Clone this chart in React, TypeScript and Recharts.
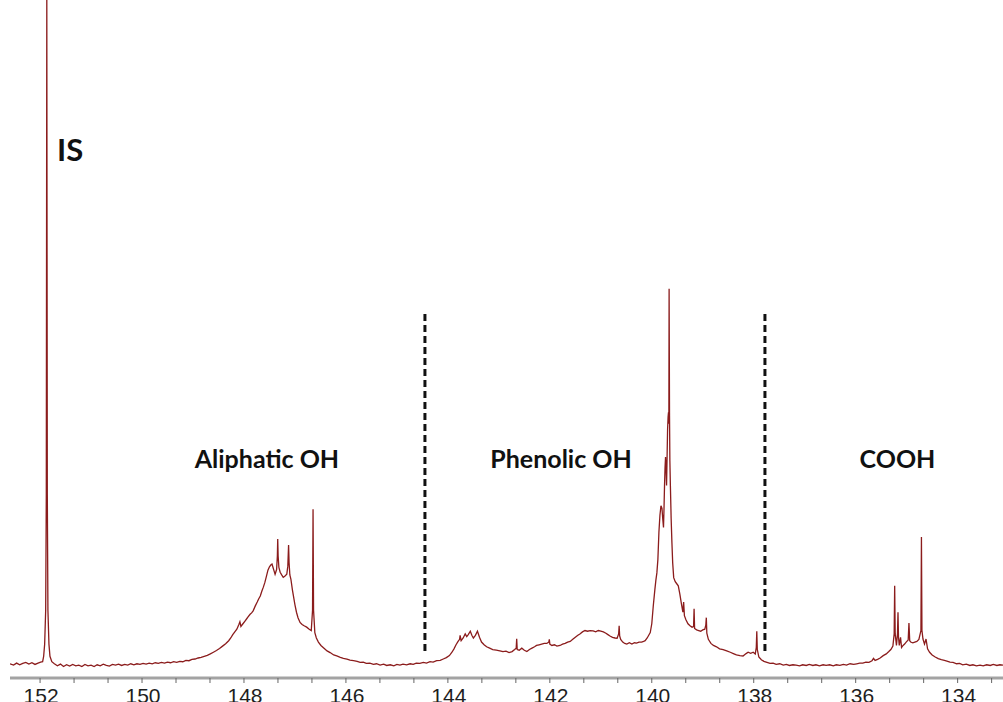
import React from 'react';
import { ComposedChart, Line, XAxis, YAxis, ReferenceLine, ReferenceDot } from 'recharts';

// 31P NMR spectrum: [chemical shift (ppm), relative intensity]
const isRegion: [number, number][] = [
  [152.59, 0.1], [152.52, -0.1], [152.46, 0.2], [152.4, -0.05], [152.34, 0.15], [152.28, 0.3],
  [152.22, 0.05], [152.16, 0.25], [152.1, 0.0], [152.04, 0.2], [151.99, 0.35], [151.95, 0.4],
  [151.93, 1.2], [151.91, 3.0], [151.89, 8], [151.878, 25], [151.868, 98.5], [151.858, 25],
  [151.846, 8], [151.826, 3.0], [151.806, 1.2], [151.77, 0.4],
];

const aliphaticRegion: [number, number][] = [
  [151.72, 0.1], [151.66, -0.2], [151.6, 0.05], [151.54, -0.3], [151.48, -0.05], [151.42, -0.25],
  [151.36, 0.0], [151.3, -0.2], [151.24, -0.1], [151.18, -0.3], [151.12, 0.0], [151.06, -0.2],
  [151.0, -0.1], [150.94, -0.3], [150.88, -0.05], [150.82, -0.2], [150.76, 0.05], [150.7, -0.15],
  [150.64, -0.25], [150.58, 0.0], [150.52, -0.1], [150.46, 0.05], [150.4, -0.15], [150.34, 0.0],
  [150.28, -0.1], [150.22, 0.1], [150.16, -0.05], [150.1, 0.1], [150.04, 0.0], [149.98, 0.15],
  [149.92, 0.05], [149.86, 0.2], [149.8, 0.1], [149.74, 0.25], [149.68, 0.15], [149.62, 0.3],
  [149.56, 0.2], [149.5, 0.35], [149.44, 0.25], [149.38, 0.4], [149.32, 0.3], [149.26, 0.45],
  [149.2, 0.4], [149.14, 0.6], [149.08, 0.55], [149.02, 0.75], [148.96, 0.8], [148.9, 0.95],
  [148.84, 1.05], [148.78, 1.2], [148.72, 1.35], [148.66, 1.55], [148.6, 1.8], [148.54, 2.05],
  [148.48, 2.35], [148.42, 2.7], [148.36, 3.05], [148.3, 3.5], [148.26, 3.9], [148.22, 4.4],
  [148.18, 4.8], [148.14, 5.2], [148.1, 5.9], [148.08, 6.3], [148.06, 5.6], [148.02, 6.0],
  [147.98, 6.4], [147.95, 6.7], [147.92, 7.0], [147.88, 7.4], [147.85, 7.6], [147.82, 7.9],
  [147.78, 8.6], [147.74, 9.2], [147.71, 9.7], [147.68, 10.1], [147.65, 10.8], [147.62, 11.4],
  [147.59, 12.1], [147.56, 13.0], [147.53, 13.9], [147.5, 14.4], [147.47, 14.7], [147.45, 14.8],
  [147.43, 14.3], [147.41, 13.8], [147.39, 13.3], [147.36, 14.0], [147.345, 16.0], [147.338, 18.5],
  [147.33, 16.0], [147.315, 14.3], [147.29, 13.6], [147.26, 13.2], [147.23, 12.85], [147.2, 13.0],
  [147.16, 13.3], [147.14, 14.5], [147.125, 17.6], [147.115, 15.0], [147.1, 13.2], [147.08, 12.6],
  [147.05, 11.0], [147.03, 10.1], [147.0, 8.8], [146.97, 7.7], [146.94, 6.9], [146.9, 6.2],
  [146.86, 5.9], [146.82, 5.7], [146.77, 5.5], [146.72, 5.2], [146.68, 5.0], [146.655, 8.0],
  [146.645, 22.9], [146.635, 8.0], [146.61, 4.7], [146.58, 3.9], [146.54, 3.3], [146.49, 2.8],
  [146.43, 2.4], [146.37, 2.0], [146.31, 1.75], [146.24, 1.4], [146.18, 1.25], [146.11, 1.05],
  [146.05, 0.9], [145.98, 0.8], [145.92, 0.65], [145.85, 0.55], [145.78, 0.45], [145.72, 0.3],
  [145.66, 0.35], [145.6, 0.15], [145.53, 0.2], [145.46, 0.0], [145.4, 0.1], [145.33, -0.1],
  [145.26, 0.05], [145.2, -0.15], [145.13, -0.05], [145.06, -0.2], [145.0, 0.0], [144.94, -0.1],
  [144.88, 0.05], [144.81, -0.05], [144.74, 0.1], [144.68, 0.0], [144.62, 0.2], [144.55, 0.15],
  [144.48, 0.3], [144.42, 0.2],
];

const phenolicRegion: [number, number][] = [
  [144.35, 0.4], [144.29, 0.35], [144.22, 0.55], [144.15, 0.6], [144.09, 0.8], [144.03, 1.0],
  [143.97, 1.3], [143.92, 1.8], [143.88, 2.3], [143.84, 2.9], [143.8, 3.4], [143.77, 3.7],
  [143.76, 4.3], [143.74, 3.5], [143.7, 3.9], [143.66, 4.5], [143.63, 4.1], [143.6, 4.4],
  [143.56, 4.9], [143.53, 4.3], [143.5, 3.9], [143.46, 4.3], [143.42, 4.9], [143.38, 4.0],
  [143.34, 3.3], [143.29, 2.9], [143.24, 2.6], [143.18, 2.4], [143.12, 2.2], [143.05, 2.1],
  [142.98, 2.0], [142.92, 1.9], [142.86, 1.95], [142.8, 1.75], [142.74, 1.9], [142.69, 2.2],
  [142.66, 2.4], [142.65, 3.8], [142.64, 2.2], [142.6, 2.1], [142.55, 2.4], [142.5, 2.1],
  [142.45, 1.9], [142.4, 2.2], [142.35, 2.4], [142.3, 2.6], [142.26, 2.8], [142.21, 2.9],
  [142.16, 3.0], [142.11, 3.1], [142.06, 3.1], [142.02, 3.3], [142.01, 3.7], [142.0, 3.0],
  [141.96, 2.8], [141.91, 2.9], [141.86, 2.7], [141.8, 2.8], [141.75, 3.0], [141.7, 3.1],
  [141.65, 3.3], [141.6, 3.4], [141.55, 3.7], [141.5, 4.0], [141.45, 4.3], [141.41, 4.5],
  [141.36, 4.8], [141.31, 5.0], [141.26, 4.9], [141.21, 5.0], [141.15, 4.95], [141.1, 4.8],
  [141.05, 5.0], [141.0, 4.9], [140.95, 4.8], [140.9, 4.6], [140.86, 4.4], [140.82, 4.2],
  [140.77, 4.0], [140.72, 3.9], [140.68, 3.85], [140.65, 4.5], [140.64, 5.7], [140.63, 4.2],
  [140.61, 3.7], [140.57, 3.3], [140.53, 3.1], [140.49, 3.0], [140.44, 3.2], [140.39, 3.0],
  [140.34, 3.2], [140.3, 3.15], [140.25, 3.3], [140.2, 3.3], [140.16, 3.4], [140.13, 3.5],
  [140.09, 3.9], [140.06, 4.3], [140.03, 4.7], [140.0, 6.0], [139.97, 8.7], [139.94, 11.0],
  [139.92, 12.4], [139.9, 13.5], [139.88, 15.5], [139.86, 19.5], [139.84, 22.0], [139.82, 23.4],
  [139.8, 23.0], [139.785, 21.5], [139.77, 20.2], [139.76, 23.0], [139.75, 26.4], [139.74, 29.0],
  [139.73, 30.6], [139.72, 29.0], [139.71, 26.4], [139.7, 30.5], [139.69, 34.7], [139.68, 36.5],
  [139.672, 37.2], [139.665, 35.5], [139.66, 55.4], [139.652, 36.7], [139.645, 30.0], [139.635, 26.4],
  [139.62, 21.5], [139.605, 18.0], [139.59, 15.0], [139.57, 12.8], [139.54, 12.2], [139.51, 11.9],
  [139.48, 11.6], [139.45, 10.4], [139.42, 9.0], [139.39, 7.7], [139.375, 9.2], [139.36, 7.2],
  [139.33, 6.6], [139.29, 6.0], [139.25, 5.7], [139.21, 5.5], [139.18, 5.6], [139.17, 8.2],
  [139.16, 5.3], [139.12, 5.1], [139.08, 5.0], [139.04, 4.9], [139.0, 5.1], [138.96, 5.2],
  [138.94, 5.8], [138.93, 6.9], [138.92, 4.6], [138.89, 3.7], [138.84, 3.1], [138.79, 2.8],
  [138.73, 2.6], [138.67, 2.3], [138.6, 2.2], [138.53, 2.0], [138.46, 1.8], [138.4, 1.6],
  [138.34, 1.4], [138.27, 1.3], [138.21, 1.25], [138.15, 1.6], [138.11, 1.8], [138.06, 1.65],
  [138.01, 1.8], [137.97, 1.55], [137.95, 2.5], [137.94, 4.9], [137.93, 2.2], [137.9, 1.1],
  [137.85, 0.7], [137.8, 0.45],
];

const coohRegion: [number, number][] = [
  [137.74, 0.3], [137.68, 0.15], [137.62, 0.2], [137.56, 0.0], [137.49, 0.1], [137.42, -0.1],
  [137.36, 0.0], [137.3, -0.15], [137.23, -0.05], [137.17, -0.1], [137.1, -0.2], [137.04, -0.05],
  [136.97, -0.15], [136.91, 0.0], [136.84, -0.15], [136.78, -0.05], [136.71, -0.2], [136.64, -0.05],
  [136.58, -0.15], [136.51, -0.05], [136.44, -0.2], [136.38, -0.05], [136.31, -0.15], [136.24, 0.0],
  [136.18, -0.1], [136.11, 0.1], [136.04, 0.0], [135.98, 0.1], [135.92, 0.2], [135.86, 0.2],
  [135.8, 0.35], [135.74, 0.3], [135.68, 0.55], [135.65, 0.9], [135.62, 0.6], [135.57, 0.75],
  [135.52, 0.95], [135.46, 1.3], [135.4, 1.55], [135.35, 1.9], [135.31, 2.2], [135.27, 2.7],
  [135.245, 4.5], [135.235, 11.6], [135.225, 4.5], [135.2, 2.8], [135.18, 4.5], [135.17, 7.7],
  [135.16, 4.0], [135.145, 2.8], [135.12, 4.0], [135.1, 2.5], [135.07, 2.8], [135.04, 3.0],
  [135.01, 3.3], [134.97, 3.6], [134.955, 6.1], [134.94, 3.5], [134.92, 3.3], [134.88, 3.2],
  [134.84, 3.3], [134.8, 3.4], [134.76, 3.7], [134.72, 5.0], [134.71, 18.8], [134.7, 5.0],
  [134.68, 3.75], [134.65, 3.0], [134.62, 3.75], [134.59, 2.3], [134.55, 1.8], [134.5, 1.4],
  [134.44, 1.1], [134.38, 0.85], [134.32, 0.7], [134.26, 0.6], [134.21, 0.5], [134.15, 0.35],
  [134.09, 0.3], [134.02, 0.1], [133.96, 0.15], [133.9, -0.05], [133.83, 0.05], [133.76, -0.15],
  [133.7, -0.05], [133.63, -0.2], [133.56, -0.1], [133.5, -0.2], [133.43, -0.05], [133.36, -0.15],
  [133.3, 0.0], [133.23, -0.15], [133.17, -0.05], [133.11, -0.1],
];

// axis labels (ppm)
const majorTicks = [152, 150, 148, 146, 144, 142, 140, 138, 136, 134];

// region boundaries (ppm)
const boundaries = [144.45, 137.78];

// region annotations
const regionNames = ['Aliphatic OH', 'Phenolic OH', 'COOH'];
const regionLabelShift = [147.55, 141.78, 135.18];
const regionLabelLevel = 29;
const standardName = 'IS';
const standardLabelShift = 151.41;
const standardLabelLevel = 74.3;

const spectrum = [...isRegion, ...aliphaticRegion, ...phenolicRegion, ...coohRegion].map(
  ([ppm, intensity]) => ({ ppm, intensity })
);

// minor ticks split each 2 ppm interval into thirds
const allTicks: number[] = [];
majorTicks.forEach((t) => {
  allTicks.push(t, t - 2 / 3, t - 4 / 3);
});

const isMajor = (v: number) => majorTicks.some((t) => Math.abs(t - v) < 1e-6);

const PpmTick = (props: any) => {
  const { x, y, payload } = props;
  if (!isMajor(payload.value)) return <g />;
  return (
    <text
      x={x + 1}
      y={y + 18}
      textAnchor="middle"
      fontFamily="'Liberation Sans', Arial, sans-serif"
      fontSize={21}
      fill="#1e1e1e"
    >
      {Math.round(payload.value)}
    </text>
  );
};

const makeLabel = (text: string, size: number) => (props: any) => {
  const vb = props.viewBox || {};
  const cx = (vb.x ?? 0) + (vb.width ?? 0) / 2;
  const cy = (vb.y ?? 0) + (vb.height ?? 0) / 2;
  return (
    <text
      x={cx}
      y={cy}
      textAnchor="middle"
      fontFamily="Lato, 'Open Sans', sans-serif"
      fontWeight={700}
      fontSize={size}
      fill="#111"
    >
      {text}
    </text>
  );
};

export default function App() {
  return (
    <div style={{ position: 'absolute', left: 0, top: 0, width: 1003, height: 702, background: '#fff' }}>
      <ComposedChart
        width={1003}
        height={702}
        data={spectrum}
        margin={{ top: 0, right: 0, bottom: 0, left: 10 }}
      >
        <XAxis
          dataKey="ppm"
          type="number"
          domain={[133.11, 152.59]}
          reversed
          allowDataOverflow
          ticks={allTicks}
          interval={0}
          height={24}
          tickSize={5}
          axisLine={{ stroke: '#a3a3a3', strokeWidth: 3 }}
          tickLine={{ stroke: '#666', strokeWidth: 1 }}
          tick={<PpmTick />}
        />
        <YAxis type="number" domain={[-2, 98]} allowDataOverflow hide />
        {boundaries.map((b) => (
          <ReferenceLine
            key={b}
            segment={[{ x: b, y: 2 }, { x: b, y: 52 }]}
            stroke="#111"
            strokeWidth={3}
            strokeDasharray="7 4"
            ifOverflow="visible"
          />
        ))}
        <Line
          type="linear"
          dataKey="intensity"
          stroke="#8b1c1c"
          strokeWidth={1.3}
          dot={false}
          activeDot={false}
          isAnimationActive={false}
        />
        <ReferenceDot
          x={standardLabelShift}
          y={standardLabelLevel}
          r={0}
          fill="none"
          stroke="none"
          label={makeLabel(standardName, 31)}
        />
        {regionNames.map((name, i) => (
          <ReferenceDot
            key={name}
            x={regionLabelShift[i]}
            y={regionLabelLevel}
            r={0}
            fill="none"
            stroke="none"
            label={makeLabel(name, 25)}
          />
        ))}
      </ComposedChart>
    </div>
  );
}
